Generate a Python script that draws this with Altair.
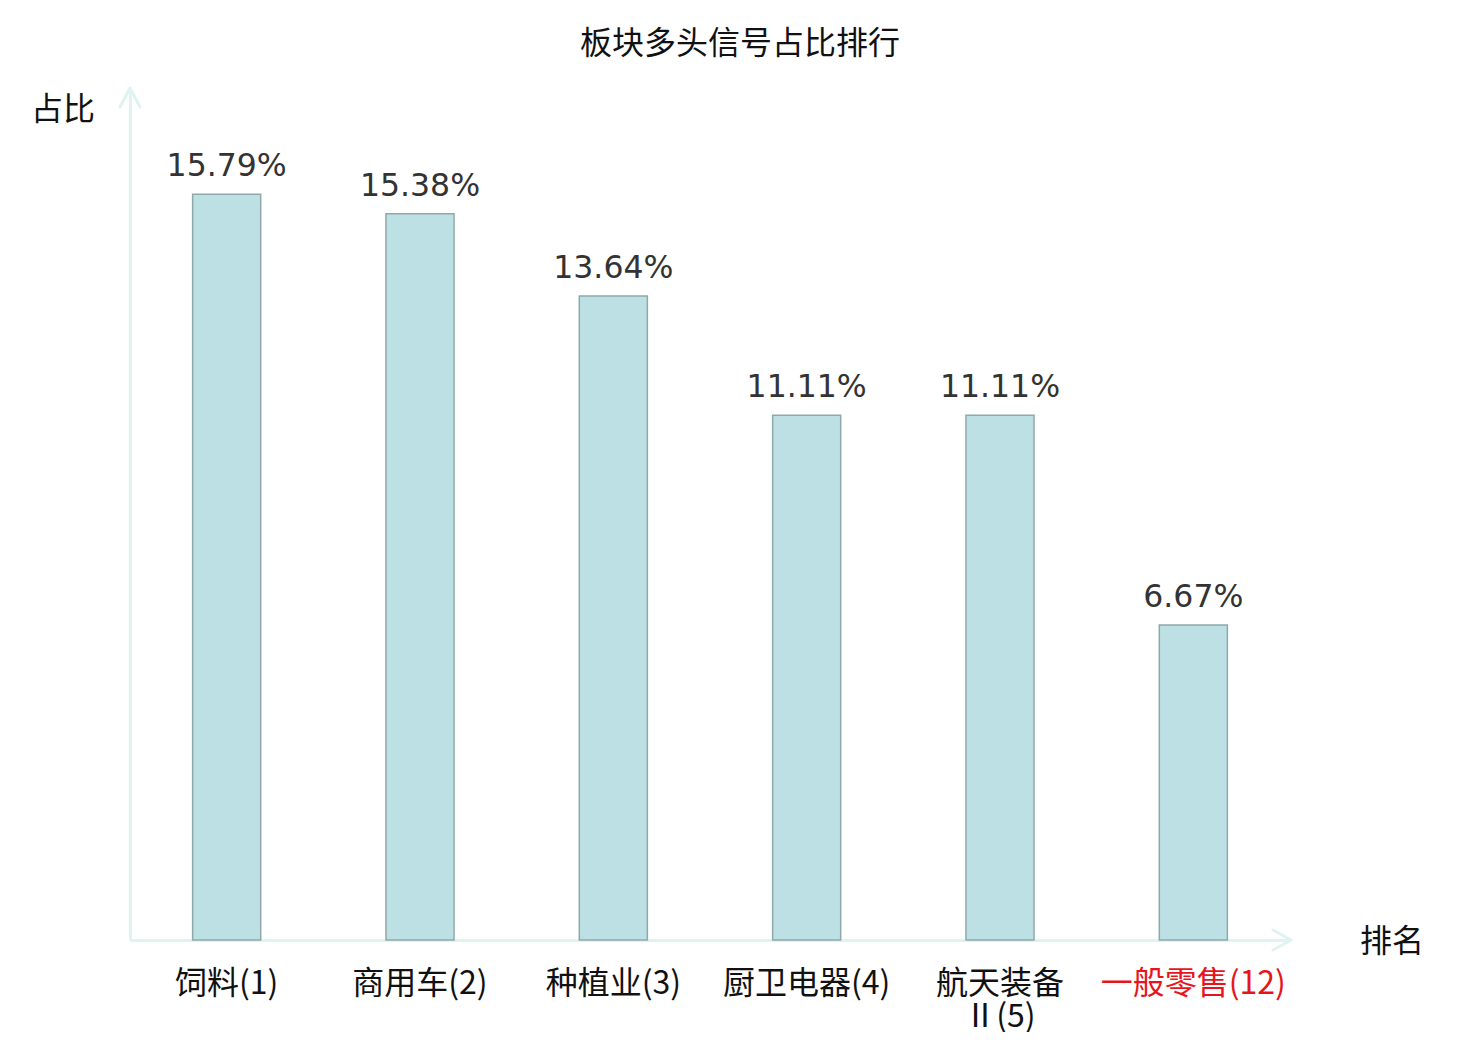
import altair as alt
import pandas as pd

categories = ["饲料(1)", "商用车(2)", "种植业(3)", "厨卫电器(4)", "航天装备\nⅡ(5)", "一般零售(12)"]
values = [15.79, 15.38, 13.64, 11.11, 11.11, 6.67]
value_labels = ["15.79%", "15.38%", "13.64%", "11.11%", "11.11%", "6.67%"]
highlight = "一般零售(12)"

df = pd.DataFrame({"cat": categories, "val": values, "lab": value_labels})

CJK = "Noto Sans CJK SC"
AXIS_COLOR = "#dff3f0"
W, H = 1160, 850

x_enc = alt.X(
    "cat:N",
    sort=categories,
    scale=alt.Scale(paddingInner=0.648, paddingOuter=0.324),
    axis=alt.Axis(
        title=None,
        labelAngle=0,
        ticks=False,
        grid=False,
        domainColor=AXIS_COLOR,
        domainWidth=3,
        labelFont=CJK,
        labelFontSize=32,
        labelPadding=28,
        labelBaseline="top",
        labelLineHeight=33,
        labelLimit=400,
        labelExpr="split(datum.value, '\\n')",
        labelColor=alt.expr(f"datum.value == '{highlight}' ? '#e8141c' : '#111111'"),
    ),
)
y_enc = alt.Y(
    "val:Q",
    scale=alt.Scale(domain=[0, 18], nice=False),
    axis=alt.Axis(
        title=None,
        labels=False,
        ticks=False,
        grid=False,
        domainColor=AXIS_COLOR,
        domainWidth=3,
    ),
)

base = alt.Chart(df)

bars = base.mark_bar(
    fill="#bce0e3", stroke="#8fa9aa", strokeWidth=1.5
).encode(x=x_enc, y=y_enc)

vals = base.mark_text(
    font="DejaVu Sans", fontSize=31.5, color="#333333", baseline="alphabetic", dy=-18
).encode(x=alt.X("cat:N", sort=categories), y="val:Q", text="lab:N")

one = alt.Data(values=[{"a": 1}])

def seg(x1, y1, x2, y2):
    return alt.Chart(one).mark_rule(color=AXIS_COLOR, strokeWidth=3, strokeCap="round").encode(
        x=alt.value(x1), y=alt.value(y1), x2=alt.value(x2), y2=alt.value(y2)
    )

arrows = [
    seg(0, -2, -10, 17),
    seg(0, -2, 10, 17),
    seg(W + 1, H, W - 17, H - 10),
    seg(W + 1, H, W - 17, H + 10),
]

def txt(s, x, y, size=32, color="#111111"):
    return alt.Chart(one).mark_text(
        text=s, font=CJK, fontSize=size, color=color, align="center", baseline="middle"
    ).encode(x=alt.value(x), y=alt.value(y))

title = txt("板块多头信号占比排行", 610, -46)
ytitle = txt("占比", -67, 20)
xtitle = txt("排名", 1262, 852)

chart = alt.layer(bars, vals, *arrows, title, ytitle, xtitle).properties(
    width=W,
    height=H,
    view=alt.ViewBackground(strokeWidth=0, stroke="white"),
    autosize=alt.AutoSizeParams(type="none"),
    padding={"left": 122, "top": 82, "right": 182, "bottom": 92},
).configure_view(strokeWidth=0, stroke="white").configure(background="white")

chart.save("out.html", embed_options={"renderer": "svg", "actions": False})
